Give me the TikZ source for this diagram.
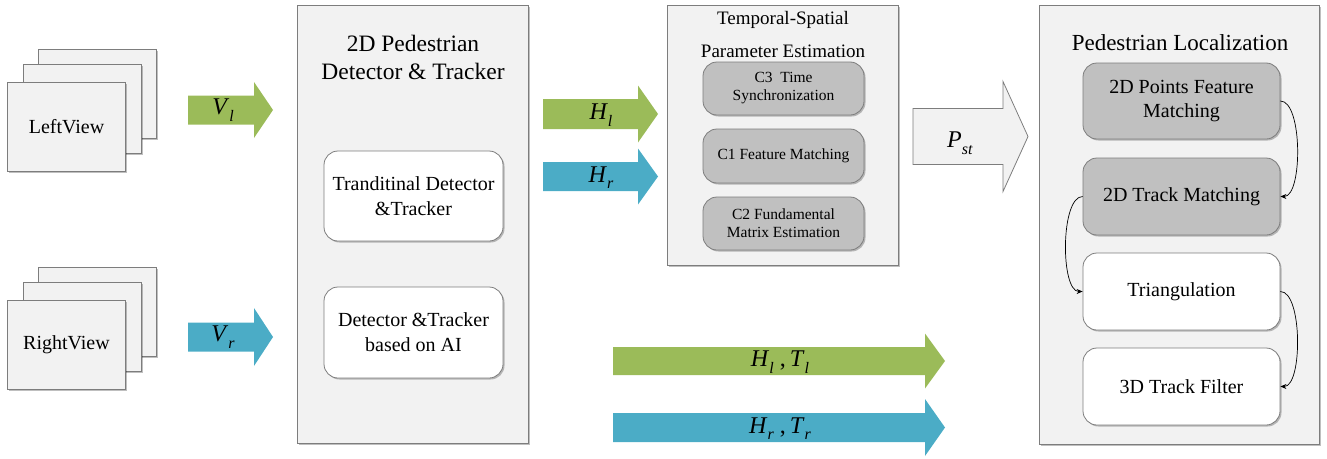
\documentclass[tikz,border=0pt]{standalone}
\usepackage{fontspec}
\IfFontExistsTF{LiberationSerif-Regular.ttf}{%
  \setmainfont{LiberationSerif-Regular.ttf}[BoldFont=LiberationSerif-Bold.ttf,ItalicFont=LiberationSerif-Italic.ttf,BoldItalicFont=LiberationSerif-BoldItalic.ttf]}{%
  \setmainfont{Liberation Serif}}
\usetikzlibrary{arrows.meta,shadows}
\definecolor{ogreen}{RGB}{155,187,89}
\definecolor{oblue}{RGB}{75,172,198}
\definecolor{panel}{RGB}{242,242,242}
\definecolor{darkbox}{RGB}{192,192,192}
\definecolor{edge}{RGB}{125,125,125}
\newcommand\barrow[7]{%
  \path[#1] (#2,#5-#6) -- (#3,#5-#6) -- (#3,#5-#7) -- (#4,#5) -- (#3,#5+#7) -- (#3,#5+#6) -- (#2,#5+#6) -- cycle;}
\newcommand\vsym[2]{\textit{#1}\raisebox{-0.28em}{\fontsize{16}{16}\selectfont\textit{#2}}}
\begin{document}
\begin{tikzpicture}[x=1pt,y=-1pt,
  shade/.style={drop shadow={shadow xshift=1.5pt,shadow yshift=-1.5pt,opacity=0.25,fill=black}},
  panelbox/.style={draw=edge,fill=panel,line width=0.8pt,shade,inner sep=0pt},
  viewbox/.style={panelbox,minimum width=118pt,minimum height=89pt,font=\fontsize{20}{24}\selectfont},
  wbox/.style={draw=edge,fill=white,line width=0.8pt,rounded corners=14pt,shade,align=center,inner sep=0pt},
  gbox/.style={draw=edge,fill=darkbox,line width=0.8pt,rounded corners=14pt,shade,align=center,inner sep=0pt},
  greenarrow/.style={fill=ogreen},
  bluearrow/.style={fill=oblue},
  grayarrow/.style={fill=panel,draw=edge,line width=0.8pt},
  mlabel/.style={font=\fontsize{24}{28}\selectfont},
  conn/.style={draw=black,line width=0.7pt,-{Stealth[length=6pt,width=5pt]}}
]
\useasboundingbox (0,0) rectangle (1327,458);

% left view stack
\node[viewbox] (lv3) at (97,93.5) {};
\node[viewbox] (lv2) at (82,108.5) {};
\node[viewbox] (lv1) at (66.5,126.5) {LeftView};
% right view stack
\node[viewbox] (rv3) at (97,312) {};
\node[viewbox] (rv2) at (82,326.5) {};
\node[viewbox] (rv1) at (66.5,344.5) {RightView};

% V arrows
\barrow{greenarrow}{188}{254}{273}{110}{14.5}{28}
\node[mlabel] (vl) at (223,110) {\vsym{V}{l}};
\barrow{bluearrow}{188}{254}{273}{337}{14.5}{29}
\node[mlabel] (vr) at (223,337) {\vsym{V}{r}};

% 2D detector panel
\node[panelbox,minimum width=231pt,minimum height=438pt] (det) at (412.5,224) {};
\node[align=center,font=\fontsize{23.5}{28}\selectfont] (dettitle) at (413,57) {2D Pedestrian\\Detector \& Tracker};
\node[wbox,minimum width=179pt,minimum height=90pt,font=\fontsize{20}{25}\selectfont] (trad) at (413.5,196) {Tranditinal Detector\\\&Tracker};
\node[wbox,minimum width=179pt,minimum height=91pt,font=\fontsize{20}{25}\selectfont] (ai) at (413.5,332.5) {Detector \&Tracker\\based on AI};

% H arrows
\barrow{greenarrow}{543}{638}{658}{114}{15}{28.5}
\node[mlabel] (hl) at (601,115) {\vsym{H}{l}};
\barrow{bluearrow}{543}{638}{658}{176.5}{14.5}{28}
\node[mlabel] (hr) at (601,177.5) {\vsym{H}{r}};

% temporal-spatial panel
\node[panelbox,minimum width=231pt,minimum height=260pt] (ts) at (782.5,135) {};
\node[align=center,font=\fontsize{19}{33}\selectfont] (tstitle) at (783,34) {Temporal-Spatial\\Parameter Estimation};
\node[gbox,minimum width=161pt,minimum height=53pt,font=\fontsize{15.5}{18}\selectfont] (c3) at (783.5,88.5) {C3\ \ Time\\Synchronization};
\node[gbox,minimum width=161pt,minimum height=54pt,font=\fontsize{15.5}{18}\selectfont] (c1) at (783.5,156) {C1 Feature Matching};
\node[gbox,minimum width=161pt,minimum height=53pt,font=\fontsize{15.5}{18}\selectfont] (c2) at (783.5,223.5) {C2 Fundamental\\Matrix Estimation};

% P_st arrow
\barrow{grayarrow}{913}{1003}{1028}{136.5}{28}{55}
\node[mlabel] (pst) at (960,143) {\vsym{P}{st}};

% bottom arrows
\barrow{greenarrow}{613}{925}{945}{361}{14}{27.5}
\node[mlabel] (hlt) at (780,362) {\vsym{H}{l}\ ,\,\vsym{T}{l}};
\barrow{bluearrow}{613}{925}{945}{427.5}{14.5}{28.5}
\node[mlabel] (hrt) at (780,428.5) {\vsym{H}{r}\ ,\,\vsym{T}{r}};

% pedestrian localization panel
\node[panelbox,minimum width=280pt,minimum height=439pt] (pl) at (1179,224.5) {};
\node[font=\fontsize{23}{28}\selectfont] (pltitle) at (1180,43) {Pedestrian Localization};
\node[gbox,minimum width=197pt,minimum height=76pt,font=\fontsize{20}{24}\selectfont] (p1) at (1181.5,101) {2D Points Feature\\Matching};
\node[gbox,minimum width=197pt,minimum height=77pt,font=\fontsize{20}{24}\selectfont] (p2) at (1181.5,196.5) {2D Track Matching};
\node[wbox,minimum width=197pt,minimum height=77pt,font=\fontsize{20}{24}\selectfont] (p3) at (1181.5,291.5) {Triangulation};
\node[wbox,minimum width=197pt,minimum height=77pt,font=\fontsize{20}{24}\selectfont] (p4) at (1181.5,386.5) {3D Track Filter};

\draw[conn] (p1.east) to[out=0,in=0,looseness=0.6] (p2.east);
\draw[conn] (p2.west) to[out=180,in=180,looseness=0.6] (p3.west);
\draw[conn] (p3.east) to[out=0,in=0,looseness=0.6] (p4.east);
\end{tikzpicture}
\end{document}
